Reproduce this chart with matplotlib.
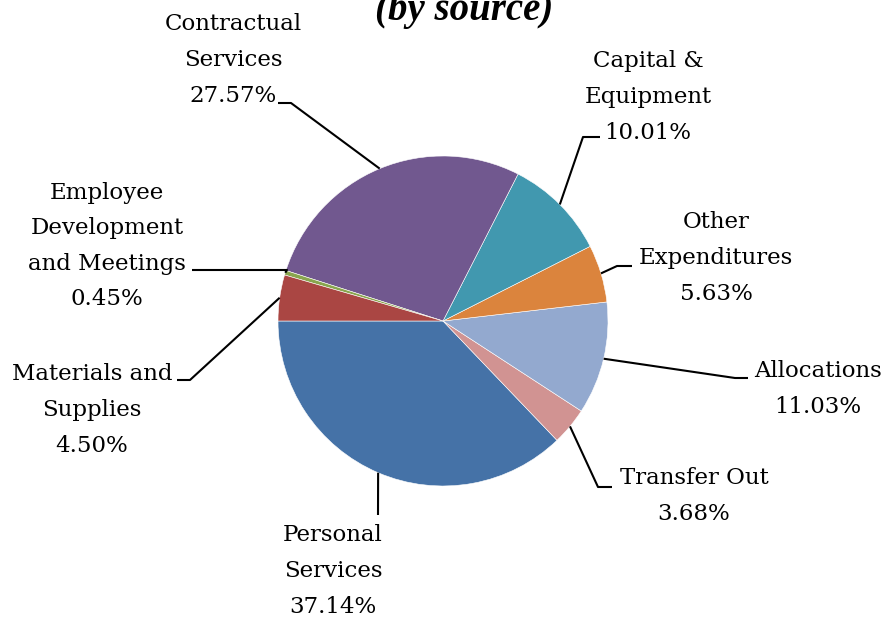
import matplotlib
matplotlib.use("Agg")
import matplotlib.pyplot as plt
import numpy as np

# slices in drawing order (counter-clockwise from 9 o'clock)
labels = ["Personal\nServices", "Transfer Out", "Allocations", "Other\nExpenditures",
          "Capital &\nEquipment", "Contractual\nServices",
          "Employee\nDevelopment\nand Meetings", "Materials and\nSupplies"]
shares = [37.14, 3.68, 11.03, 5.63, 10.01, 27.57, 0.45, 4.50]
colors = ["#4572A7", "#D19392", "#93A9CF", "#DB843D", "#4198AF", "#71588F",
          "#89A54E", "#AA4643"]

W, H = 895, 619
fig = plt.figure(figsize=(W / 100, H / 100), dpi=100)
ax = fig.add_axes([0, 0, 1, 1])

cx, cy, r = 443, H - 321, 165
wedges, _ = ax.pie(shares, colors=colors, startangle=180, counterclock=True,
                   center=(cx, cy), radius=r, frame=True,
                   wedgeprops=dict(edgecolor="white", linewidth=0.4))
ax.set_xlim(0, W)
ax.set_ylim(0, H)
ax.set_aspect("equal")
ax.axis("off")

# label layout: (elbow x, elbow y, end x, text x, text y) in image pixels
layout = [
    (378, 515, 378, 333, 571),
    (598, 487, 612, 694, 496),
    (735, 378, 748, 818, 389),
    (617, 266, 632, 716, 258),
    (583, 137, 600, 648, 97),
    (291, 103, 278, 233, 60),
    (287, 270, 192, 107, 246),
    (190, 380, 177, 92, 410),
]

font = "DejaVu Serif"
for w, lab, v, (ex, ey, hx, tx, ty) in zip(wedges, labels, shares, layout):
    mid = np.deg2rad((w.theta1 + w.theta2) / 2)
    sx, sy = cx + r * np.cos(mid), cy + r * np.sin(mid)
    ax.plot([sx, ex, hx], [sy, H - ey, H - ey], color="black", lw=1.5,
            solid_capstyle="butt", zorder=3)
    ax.text(tx, H - ty, f"{lab}\n{v:.2f}%", ha="center", va="center",
            fontsize=16.5, family=font, linespacing=1.8, color="black")

ax.text(464, H - 20, "(by source)", ha="center", va="baseline",
        fontsize=28, family="Liberation Serif", fontweight="bold",
        fontstyle="italic")

fig.savefig("out.png", dpi=100)
